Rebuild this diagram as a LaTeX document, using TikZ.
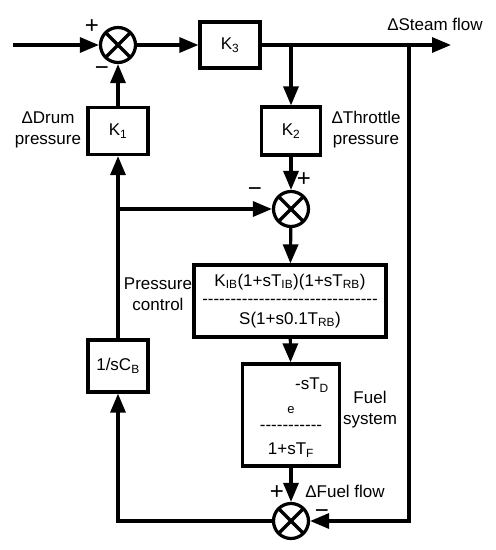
\documentclass[tikz,border=0pt]{standalone}
\usepackage{fontspec}
\setmainfont{Liberation Sans}
\usepackage{tikz}
\usetikzlibrary{arrows.meta, positioning}

\newcommand{\dashrow}[1]{\foreach \i in {1,...,#1}{-{}}}

\begin{document}
\begin{tikzpicture}[
  x=1pt, y=-1pt,
  every node/.style={font=\fontsize{17}{21}\selectfont},
  block/.style={rectangle, draw, line width=3.2pt, inner sep=0pt, align=center},
  sumnode/.style={circle, draw, line width=3.2pt, minimum size=35pt, inner sep=0pt,
    path picture={\draw[line width=3.2pt] (path picture bounding box.north west) -- (path picture bounding box.south east)
      (path picture bounding box.north east) -- (path picture bounding box.south west);}},
  lbl/.style={align=center, inner sep=0pt},
  sign/.style={inner sep=0pt, font=\fontsize{24}{24}\selectfont, text height=1.5ex, text depth=0pt},
  arr/.style={-{Triangle[length=19pt, width=15pt]}, line width=3.2pt}
]
\useasboundingbox (0,0) rectangle (496,550);

% Nodes
\coordinate (in) at (13,45);
\node[sumnode] (sum1) at (118,45) {};
\node[block, minimum width=60pt, minimum height=46pt] (k3) at (230,45) {K\textsubscript{3}};
\coordinate (out) at (451,45);
\coordinate (tapk) at (291,45);
\coordinate (tapf) at (409,45);

\node[block, minimum width=60pt, minimum height=47pt] (k1) at (118,131) {K\textsubscript{1}};
\node[block, minimum width=59pt, minimum height=48pt] (k2) at (291,131) {K\textsubscript{2}};

\node[sumnode] (sum2) at (291,209) {};
\coordinate (tapp) at (118,209);

\node[block, minimum width=192pt, minimum height=72pt] (ctrl) at (290,301)
  {K\textsubscript{IB}(1+sT\textsubscript{IB})(1+sT\textsubscript{RB})\\[-3pt]
   \dashrow{31}\\[-1pt]
   S(1+s0.1T\textsubscript{RB})};

\node[block, minimum width=60pt, minimum height=52pt] (csb) at (118,366) {1/sC\textsubscript{B}};

\node[block, minimum width=97pt, minimum height=102pt] (fuel) at (291,415) {};
\node[lbl] (fnum) at (312,385) {-sT\textsubscript{D}};
\node[lbl, font=\fontsize{13}{15}\selectfont] (fexp) at (291,410) {e};
\node[lbl] (fbar) at (291,428) {\dashrow{11}};
\node[lbl] (fden) at (291,450) {1+sT\textsubscript{F}};

\node[sumnode] (sum3) at (291,521) {};
\coordinate (cl) at (118,521);
\coordinate (cr) at (409,521);

% Edges
\draw[arr] (in) -- (sum1);
\draw[arr] (sum1) -- (k3);
\draw[arr] (k3) -- (out);
\draw[arr] (tapk) -- (k2);
\draw[arr] (k2) -- (sum2);
\draw[arr] (k1) -- (sum1);
\draw[arr] (tapp) -- (sum2);
\draw[arr] (csb) -- (k1);
\draw[arr] (sum2) -- (ctrl);
\draw[arr] (ctrl) -- (fuel);
\draw[arr] (fuel) -- (sum3);
\draw[arr] (tapf) -- (cr) -- (sum3);
\draw[arr] (sum3) -- (cl) -- (csb);

% Labels
\node[sign] (s1p) at (92,30) {+};
\node[sign] (s1m) at (102,72) {−};
\node[lbl] (steam) at (435,24) {ΔSteam flow};
\node[lbl] (drum) at (48,130) {ΔDrum\\pressure};
\node[lbl] (thr) at (366,130) {ΔThrottle\\pressure};
\node[sign] (s2m) at (255,193) {−};
\node[sign] (s2p) at (304,183) {+};
\node[lbl] (pc) at (158,294) {Pressure\\control};
\node[lbl] (fs) at (370,410) {Fuel\\system};
\node[sign] (s3p) at (277,496) {+};
\node[lbl] (ff) at (345,491) {ΔFuel flow};
\node[sign] (s3m) at (322,515) {−};

\end{tikzpicture}
\end{document}
